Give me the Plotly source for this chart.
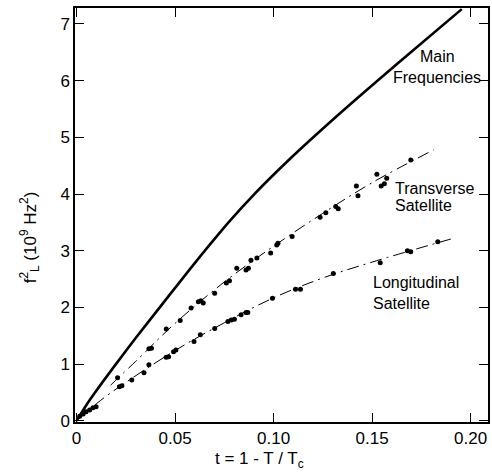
import plotly.graph_objects as go

# Main frequencies curve (solid)
main_t = [0.0, 0.005, 0.010, 0.0193, 0.030, 0.0449, 0.0604, 0.0779, 0.090, 0.1065, 0.132, 0.1629, 0.1955]
main_f = [0.0, 0.28, 0.53, 0.97, 1.46, 2.12, 2.80, 3.53, 3.99, 4.56, 5.37, 6.30, 7.26]

# Transverse satellite data
tr_t = [0.0208, 0.0367, 0.0380, 0.0455, 0.0526, 0.0581, 0.0618, 0.0631, 0.0643, 0.0701,
        0.0760, 0.0776, 0.0813, 0.0860, 0.0872, 0.0885, 0.0915, 0.0985, 0.1016, 0.1022,
        0.1094, 0.1236, 0.1265, 0.1315, 0.1328, 0.1420, 0.1428, 0.1524, 0.1546, 0.1562,
        0.1574, 0.1696]
tr_f = [0.76, 1.27, 1.28, 1.62, 1.77, 1.99, 2.10, 2.12, 2.08, 2.25,
        2.43, 2.47, 2.69, 2.66, 2.69, 2.83, 2.87, 2.96, 3.10, 3.13,
        3.25, 3.59, 3.67, 3.78, 3.74, 4.14, 3.97, 4.35, 4.14, 4.18,
        4.28, 4.60]
tr_fit_t = [0.0173, 0.030, 0.050, 0.075, 0.100, 0.125, 0.150, 0.1813]
tr_fit_f = [0.63, 1.05, 1.72, 2.45, 3.08, 3.66, 4.20, 4.78]

# Longitudinal satellite data
lo_t = [0.0016, 0.0033, 0.0048, 0.0066, 0.0083, 0.0099, 0.0217, 0.0230, 0.0280, 0.0342,
        0.0367, 0.0455, 0.0467, 0.0492, 0.0504, 0.0596, 0.0628, 0.0701, 0.0768, 0.0785,
        0.0801, 0.0835, 0.0860, 0.0869, 0.0994, 0.1111, 0.1136, 0.1303, 0.1541, 0.1679,
        0.1696, 0.1833]
lo_f = [0.08, 0.12, 0.16, 0.19, 0.23, 0.25, 0.60, 0.62, 0.72, 0.85,
        0.99, 1.12, 1.13, 1.22, 1.25, 1.40, 1.52, 1.63, 1.75, 1.78,
        1.79, 1.87, 1.91, 1.91, 2.16, 2.32, 2.32, 2.60, 2.79, 3.00,
        2.98, 3.16]
lo_fit_t = [0.0, 0.010, 0.020, 0.050, 0.075, 0.100, 0.125, 0.150, 0.1913]
lo_fit_f = [0.0, 0.30, 0.56, 1.24, 1.73, 2.17, 2.52, 2.80, 3.22]

x_ticks = [0, 0.05, 0.10, 0.15, 0.20]
x_ticktext = ["0", "0.05", "0.10", "0.15", "0.20"]
y_ticks = [0, 1, 2, 3, 4, 5, 6, 7]

FONT = "Liberation Sans, Arial, sans-serif"

fig = go.Figure()
fig.add_trace(go.Scatter(x=main_t, y=main_f, mode="lines",
                         line=dict(color="black", width=2.6, shape="spline", smoothing=0.8)))
fig.add_trace(go.Scatter(x=tr_fit_t, y=tr_fit_f, mode="lines",
                         line=dict(color="black", width=1, dash="12px,5px,2px,5px", shape="spline")))
fig.add_trace(go.Scatter(x=lo_fit_t, y=lo_fit_f, mode="lines",
                         line=dict(color="black", width=1, dash="12px,5px,2px,5px", shape="spline")))
fig.add_trace(go.Scatter(x=tr_t, y=tr_f, mode="markers", marker=dict(color="black", size=5)))
fig.add_trace(go.Scatter(x=lo_t, y=lo_f, mode="markers", marker=dict(color="black", size=5)))

axis_common = dict(showgrid=False, zeroline=False, showline=True, linecolor="black", linewidth=1.5,
                   mirror="ticks", ticks="inside", ticklen=9, tickwidth=1.3, tickcolor="black",
                   tickfont=dict(family=FONT, size=17, color="black"))

fig.update_xaxes(range=[-0.0008, 0.2088], tickvals=x_ticks, ticktext=x_ticktext, **axis_common)
fig.update_yaxes(range=[-0.02, 7.28], tickvals=y_ticks, **axis_common)

anns = [
    ("Main", 0.877, 0.882, "center"),
    ("Frequencies", 0.877, 0.833, "center"),
    ("Transverse", 0.771, 0.565, "left"),
    ("Satellite", 0.771, 0.522, "left"),
    ("Longitudinal", 0.716, 0.336, "left"),
    ("Satellite", 0.716, 0.287, "left"),
]
for text, ax, ay, anc in anns:
    fig.add_annotation(text=text, x=ax, y=ay, xref="paper", yref="paper", showarrow=False,
                       xanchor=anc, yanchor="middle", font=dict(family=FONT, size=16, color="black"))

fig.add_annotation(text="f<sup>2</sup><sub>L</sub> (10<sup>9</sup> Hz<sup>2</sup>)", x=-0.108, y=0.447,
                   xref="paper", yref="paper", showarrow=False, textangle=-90,
                   xanchor="center", yanchor="middle", font=dict(family=FONT, size=17, color="black"))
fig.add_annotation(text="t = 1 - T / T<sub>c</sub>", x=0.446, y=-0.092,
                   xref="paper", yref="paper", showarrow=False,
                   xanchor="center", yanchor="middle", font=dict(family=FONT, size=17, color="black"))

fig.update_layout(width=492, height=476, margin=dict(l=75, r=2, t=8, b=54),
                  plot_bgcolor="white", paper_bgcolor="white", showlegend=False)

fig.write_html("out.html")
